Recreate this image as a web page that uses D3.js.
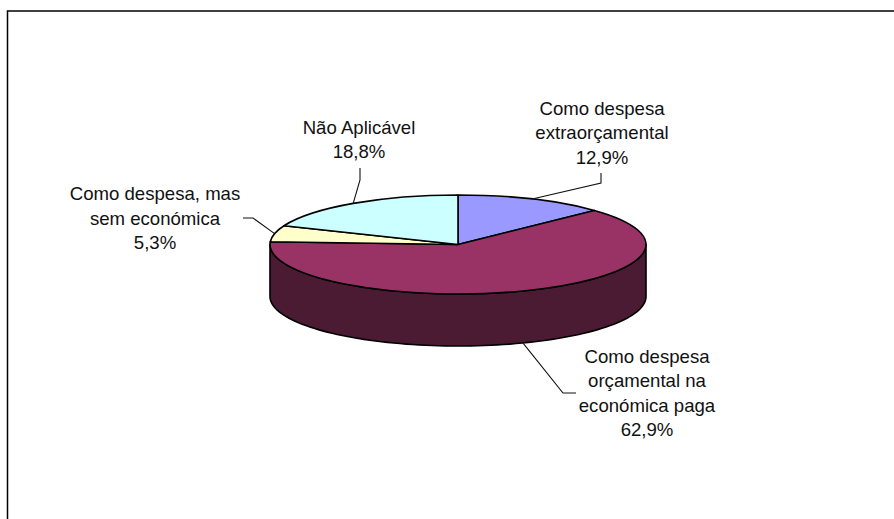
<!DOCTYPE html>
<html>
<head>
<meta charset="utf-8">
<script src="https://cdn.jsdelivr.net/npm/d3@7"></script>
<style>
    html, body { margin: 0; background: #fff; }
    svg { display: block; }
    .label { font-family: "Liberation Sans", Arial, sans-serif; font-size: 18.6px; fill: #111; text-anchor: middle; }
    .leader { fill: none; stroke: #111; stroke-width: 1.1; }
</style>
</head>
<body>
<div id="chart"></div>
<script>
// Data
const categories = [
    ["Como despesa", "extraorçamental"],
    ["Como despesa", "orçamental na", "económica paga"],
    ["Como despesa, mas", "sem económica"],
    ["Não Aplicável"]
];
const values = [12.9, 62.9, 5.3, 18.8];
const percentLabels = ["12,9%", "62,9%", "5,3%", "18,8%"];
const colors = ["#9999ff", "#993366", "#ffffcc", "#ccffff"];
const wallColor = "#4b1b33";

// Layout
const width = 894, height = 519;
const cx = 458, cy = 244.5, rx = 188, ry = 49.5, depth = 52;
const labelX = [602, 647, 155, 359];
const labelTop = [114.5, 362.5, 200, 133.5];
const lineStep = 24.6;
// leader elbows for each slice
const elbows = [
    [[601, 183], [601, 173]],
    [[563, 393], [576, 393]],
    [[253, 218], [243, 218]],
    [[360, 180], [360, 168]]
];

const svg = d3.select("#chart")
    .append("svg")
    .attr("width", width)
    .attr("height", height);

svg.append("rect").attr("width", width).attr("height", height).attr("fill", "#fff");

// Chart border runs off the right and bottom edges
svg.append("path")
    .attr("d", d3.line()([[7.5, height + 2], [7.5, 11], [width + 2, 11]]))
    .attr("fill", "none")
    .attr("stroke", "#000")
    .attr("stroke-width", 1.5);

const pie = d3.pie().sort(null).value(d => d);
const arcs = pie(values);

// angle measured clockwise from the top, same as d3.pie
const px = a => cx + Math.sin(a) * rx;
const py = a => cy - Math.cos(a) * ry;

// Side wall: only the front half of the rim shows
const front = d3.range(0, 181, 2).map(t => Math.PI / 2 + t * Math.PI / 180);
const wall = front.map(a => [px(a), py(a)])
    .concat(front.slice().reverse().map(a => [px(a), py(a) + depth]));
svg.append("path")
    .attr("d", d3.line()(wall) + "Z")
    .attr("fill", wallColor)
    .attr("stroke", "#000")
    .attr("stroke-width", 1.6)
    .attr("stroke-linejoin", "round");

// Top face: normal d3 arcs squashed into an ellipse
const arc = d3.arc().innerRadius(0).outerRadius(rx);
svg.append("g")
    .attr("transform", `translate(${cx},${cy}) scale(1,${ry / rx})`)
    .selectAll("path")
    .data(arcs)
    .join("path")
    .attr("d", arc)
    .attr("fill", (d, i) => colors[i])
    .attr("stroke", "#000")
    .attr("stroke-width", 1.6)
    .attr("stroke-linejoin", "round")
    .attr("vector-effect", "non-scaling-stroke");

// Leader lines start on the rim at each slice's mid angle
arcs.forEach((d, i) => {
    const mid = (d.startAngle + d.endAngle) / 2;
    const onFront = Math.cos(mid) < 0;
    const start = [px(mid), py(mid) + (onFront ? depth : 0)];
    svg.append("path")
        .attr("class", "leader")
        .attr("d", d3.line()([start, ...elbows[i]]));
});

// Labels
categories.forEach((lines, i) => {
    const text = svg.append("text")
        .attr("class", "label")
        .attr("x", labelX[i])
        .attr("y", labelTop[i]);
    lines.concat(percentLabels[i]).forEach((line, j) => {
        text.append("tspan")
            .attr("x", labelX[i])
            .attr("y", labelTop[i] + j * lineStep)
            .text(line);
    });
});
</script>
</body>
</html>
